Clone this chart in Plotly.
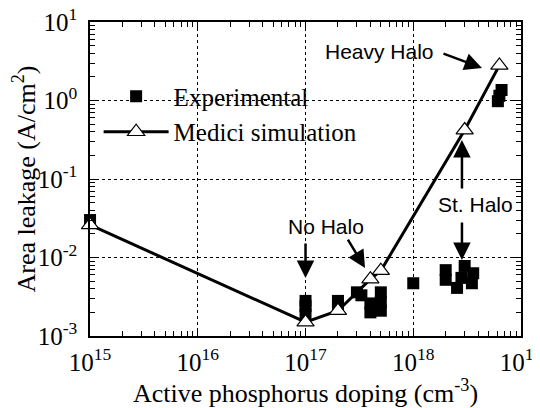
import plotly.graph_objects as go

# Experimental data (doping cm^-3, leakage A/cm^2)
exp_x = [1e15, 1e17, 1e17, 1e17, 2e17, 2e17, 3e17, 3.3e17,
         4e17, 4e17, 5e17, 5e17, 5e17, 1e18,
         2e18, 2e18, 2.55e18, 3e18, 3.6e18, 3.5e18, 2.8e18,
         6.6e18, 6.1e18, 6.3e18]
exp_y = [0.030, 0.0028, 0.0024, 0.0019, 0.0028, 0.0025, 0.0036, 0.0033,
         0.0020, 0.0026, 0.0036, 0.0021, 0.0027, 0.0047,
         0.0069, 0.0052, 0.0041, 0.0078, 0.0063, 0.0047, 0.0055,
         1.36, 0.98, 1.15]

# Medici simulation
sim_x = [1e15, 1e17, 2e17, 4e17, 5e17, 3e18, 6.3e18]
sim_y = [0.026, 0.0015, 0.0021, 0.0053, 0.0068, 0.42, 2.8]

x_tickvals = [1e15, 1e16, 1e17, 1e18, 1e19]
x_ticktext = ["10<sup>15</sup>", "10<sup>16</sup>", "10<sup>17</sup>", "10<sup>18</sup>", "10<sup>19</sup>"]
y_tickvals = [1e-3, 1e-2, 1e-1, 1e0, 1e1]
y_ticktext = ["10<sup>-3</sup>", "10<sup>-2</sup>", "10<sup>-1</sup>", "10<sup>0</sup>", "10<sup>1</sup>"]

x_minor = [m * 10.0 ** e for e in range(15, 19) for m in range(2, 10)]
y_minor = [m * 10.0 ** e for e in range(-3, 1) for m in range(2, 10)]

serif = "Liberation Serif"
sans = "Liberation Sans"

fig = go.Figure()
fig.add_trace(go.Scatter(
    x=exp_x, y=exp_y, mode="markers", name="Experimental",
    marker=dict(symbol="square", size=12, color="black", line=dict(width=0)),
    cliponaxis=False))
fig.add_trace(go.Scatter(
    x=sim_x, y=sim_y, mode="lines+markers", name="Medici simulation",
    line=dict(color="black", width=3),
    marker=dict(symbol="triangle-up", size=15, color="white", line=dict(color="black", width=1.2)),
    cliponaxis=False))

axis_common = dict(
    type="log", showline=True, linecolor="black", linewidth=1.5, mirror="allticks",
    ticks="inside", ticklen=8, tickwidth=1, tickcolor="black",
    showgrid=True, gridcolor="black", gridwidth=1, griddash="3px,3px",
    tickfont=dict(family=serif, size=25, color="black"),
    ticklabeloverflow="allow",
    zeroline=False, automargin=False,
)
minor_common = dict(tickmode="array", ticks="inside", ticklen=5, tickwidth=1,
                    tickcolor="black", showgrid=False)

fig.update_xaxes(**axis_common, range=[14.9995, 19], tickvals=x_tickvals, ticktext=x_ticktext,
                 minor=dict(**minor_common, tickvals=x_minor),
                 ticklabelstandoff=3,
                 title=dict(text="Active phosphorus doping (cm<sup>-3</sup>)",
                            font=dict(family=serif, size=26, color="black"), standoff=6))
fig.update_yaxes(**axis_common, range=[-3, 1], tickvals=y_tickvals, ticktext=y_ticktext,
                 minor=dict(**minor_common, tickvals=y_minor),
                 ticklabelstandoff=6,
                 title=dict(text="Area leakage (A/cm<sup>2</sup>)",
                            font=dict(family=serif, size=26, color="black"), standoff=0))

ann_font = dict(family=sans, size=21, color="black")
texts = [
    dict(x=17.69, y=0.618, text="Heavy Halo"),
    dict(x=17.19, y=-1.599, text="No Halo"),
    dict(x=18.573, y=-1.331, text="St. Halo"),
]
for t in texts:
    fig.add_annotation(x=t["x"], y=t["y"], text=t["text"], showarrow=False, font=ann_font,
                       xref="x", yref="y")

arrows = [
    dict(x=18.638, y=0.414, ax=-40, ay=-15),
    dict(x=17.0, y=-2.261, ax=0, ay=-36),
    dict(x=17.552, y=-2.134, ax=-18, ay=-30),
    dict(x=18.452, y=-0.503, ax=0, ay=50),
    dict(x=18.452, y=-2.032, ax=0, ay=-39),
]
for a in arrows:
    fig.add_annotation(x=a["x"], y=a["y"], ax=a["ax"], ay=a["ay"], text="", showarrow=True,
                       arrowhead=2, arrowsize=1.4, arrowwidth=2.5, arrowcolor="black",
                       xref="x", yref="y", standoff=0, startstandoff=0)

# page body has an 8px margin: size and margins compensate so the plot lands at 540x408 coords
fig.update_layout(
    width=532, height=400,
    margin=dict(l=82, r=19, t=14, b=72),
    paper_bgcolor="white", plot_bgcolor="white",
    showlegend=True,
    legend=dict(x=0.02, y=0.836, xanchor="left", yanchor="top",
                font=dict(family=serif, size=25, color="black"),
                bgcolor="rgba(0,0,0,0)", itemwidth=65, tracegroupgap=0),
)

fig.write_html("out.html")
